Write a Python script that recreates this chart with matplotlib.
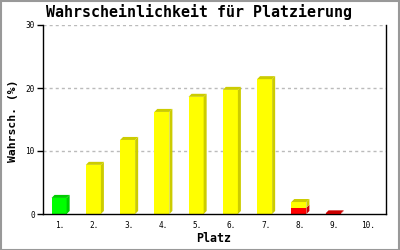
import matplotlib
matplotlib.use("Agg")
import matplotlib.pyplot as plt
from matplotlib.patches import Polygon, Rectangle

# values
platz = ['1.', '2.', '3.', '4.', '5.', '6.', '7.', '8.', '9.', '10.']
rot = [0, 0, 0, 0, 0, 0, 0, 1.0, 0.1, 0]
gelb = [0, 7.8, 11.75, 16.2, 18.6, 19.7, 21.4, 0.9, 0, 0]
gruen = [2.55, 0, 0, 0, 0, 0, 0, 0, 0, 0]

series = [(rot, '#FF0000', '#CC0000'),
          (gelb, '#FFFF00', '#CCCC00'),
          (gruen, '#00FF00', '#00CC00')]

mono = 'DejaVu Sans Mono'
fig = plt.figure(figsize=(4, 2.5), dpi=100)
ax = fig.add_axes([43 / 400, 36 / 250, 342.5 / 400, 189 / 250])

w = 0.44
dx = 0.088
dy = 0.48


def bar3d(x0, y0, y1, col, dark, top):
    x1 = x0 + w
    ax.add_patch(Rectangle((x0, y0), w, y1 - y0, facecolor=col, edgecolor='none', zorder=3))
    ax.add_patch(Polygon([(x1, y0), (x1 + dx, y0 + dy), (x1 + dx, y1 + dy), (x1, y1)],
                         facecolor=dark, edgecolor='none', zorder=3))
    if top:
        ax.add_patch(Polygon([(x0, y1), (x0 + dx, y1 + dy), (x1 + dx, y1 + dy), (x1, y1)],
                             facecolor=dark, edgecolor='none', zorder=3))


for i in range(len(platz)):
    total = sum(s[0][i] for s in series)
    bottom = 0
    for vals, col, dark in series:
        v = vals[i]
        if v <= 0:
            continue
        bar3d(i - 0.03 - w / 2, bottom, bottom + v, col, dark, abs(bottom + v - total) < 1e-9)
        bottom += v

ax.set_xlim(-0.5, 9.5)
ax.set_ylim(0, 30)
ax.set_yticks([0, 10, 20, 30])
ax.set_xticks(range(len(platz)))
ax.set_xticklabels(platz)
for y in [10, 20, 30]:
    ax.axhline(y, color='#BBBBBB', linewidth=1.0, dashes=(2.2, 2.2), zorder=1)

ax.spines['top'].set_visible(False)
for s in ['left', 'bottom', 'right']:
    ax.spines[s].set_linewidth(1.0)
    ax.spines[s].set_zorder(4)
ax.tick_params(axis='y', length=4, width=1, pad=2, labelsize=5.6)
ax.tick_params(axis='x', length=0, pad=5, labelsize=5.6)
for lab in ax.get_xticklabels() + ax.get_yticklabels():
    lab.set_family(mono)

fig.text(199 / 400, 1 - 12.5 / 250, 'Wahrscheinlichkeit für Platzierung', family=mono,
         fontweight='bold', fontsize=10.8, ha='center', va='center')
fig.text(12.5 / 400, 1 - 121 / 250, 'Wahrsch. (%)', family=mono, fontweight='bold',
         fontsize=8.2, rotation=90, ha='center', va='center')
fig.text(214 / 400, 1 - 238 / 250, 'Platz', family=mono, fontweight='bold',
         fontsize=8.4, ha='center', va='center')

fig.patches.append(Rectangle((0.5 / 400, 0.5 / 250), 398.5 / 400, 249 / 250, transform=fig.transFigure,
                             fill=False, edgecolor='#999999', linewidth=1.5))

fig.savefig('out.png', dpi=100)
